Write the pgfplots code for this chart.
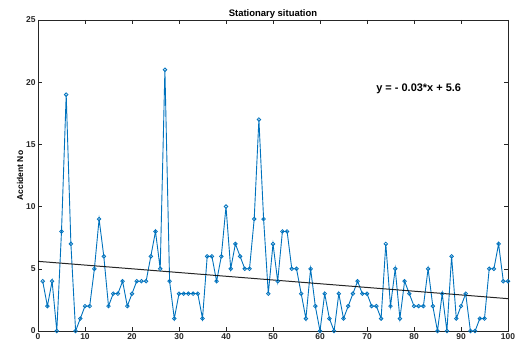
\documentclass[border=0pt]{standalone}
\usepackage{pgfplots}
\pgfplotsset{compat=1.18}
\usepackage{fontspec}
\setmainfont{Liberation Sans}
\definecolor{mblue}{RGB}{0,114,189}
\definecolor{axgray}{RGB}{38,38,38}
\begin{document}
\begin{tikzpicture}
\begin{axis}[
  at={(0,0)}, anchor=south west,
  scale only axis, width=470bp, height=311bp,
  xmin=0, xmax=100, ymin=0, ymax=25,
  xtick={0,10,...,100}, ytick={0,5,...,25},
  tick align=inside, major tick length=4bp,
  axis line style={axgray, line width=0.6pt},
  every tick/.style={axgray, line width=0.5pt},
  tick label style={font=\fontsize{8.5}{9}\selectfont\bfseries, text=axgray},
  /pgf/number format/assume math mode=true,
  title={\textbf{Stationary situation}},
  title style={font=\fontsize{9.5}{10}\selectfont, yshift=-8bp},
  ylabel={\textbf{Accident No}},
  ylabel style={font=\fontsize{8.5}{9}\selectfont, yshift=-4bp},
  xticklabel style={yshift=1bp},
  yticklabel style={xshift=1bp},
]
\addplot[mblue, line width=0.9pt, mark=o, mark size=1.8pt, mark options={line width=0.8pt}] coordinates {
(1,4)(2,2)(3,4)(4,0)(5,8)(6,19)(7,7)(8,0)(9,1)(10,2)
(11,2)(12,5)(13,9)(14,6)(15,2)(16,3)(17,3)(18,4)(19,2)(20,3)
(21,4)(22,4)(23,4)(24,6)(25,8)(26,5)(27,21)(28,4)(29,1)(30,3)
(31,3)(32,3)(33,3)(34,3)(35,1)(36,6)(37,6)(38,4)(39,6)(40,10)
(41,5)(42,7)(43,6)(44,5)(45,5)(46,9)(47,17)(48,9)(49,3)(50,7)
(51,4)(52,8)(53,8)(54,5)(55,5)(56,3)(57,1)(58,5)(59,2)(60,0)
(61,3)(62,1)(63,0)(64,3)(65,1)(66,2)(67,3)(68,4)(69,3)(70,3)
(71,2)(72,2)(73,1)(74,7)(75,2)(76,5)(77,1)(78,4)(79,3)(80,2)
(81,2)(82,2)(83,5)(84,2)(85,0)(86,3)(87,0)(88,6)(89,1)(90,2)
(91,3)(92,0)(93,0)(94,1)(95,1)(96,5)(97,5)(98,7)(99,4)(100,4)
};
\addplot[black, line width=1pt, opacity=0.85] coordinates {(0,5.6)(100,2.6)};
\node[font=\fontsize{11}{13}\selectfont\bfseries] at (axis cs:81,19.5) {y = - 0.03*x + 5.6};
\end{axis}
\pgfresetboundingbox
\useasboundingbox (-38bp,-16bp) rectangle (478bp,331bp);
\end{tikzpicture}
\end{document}
